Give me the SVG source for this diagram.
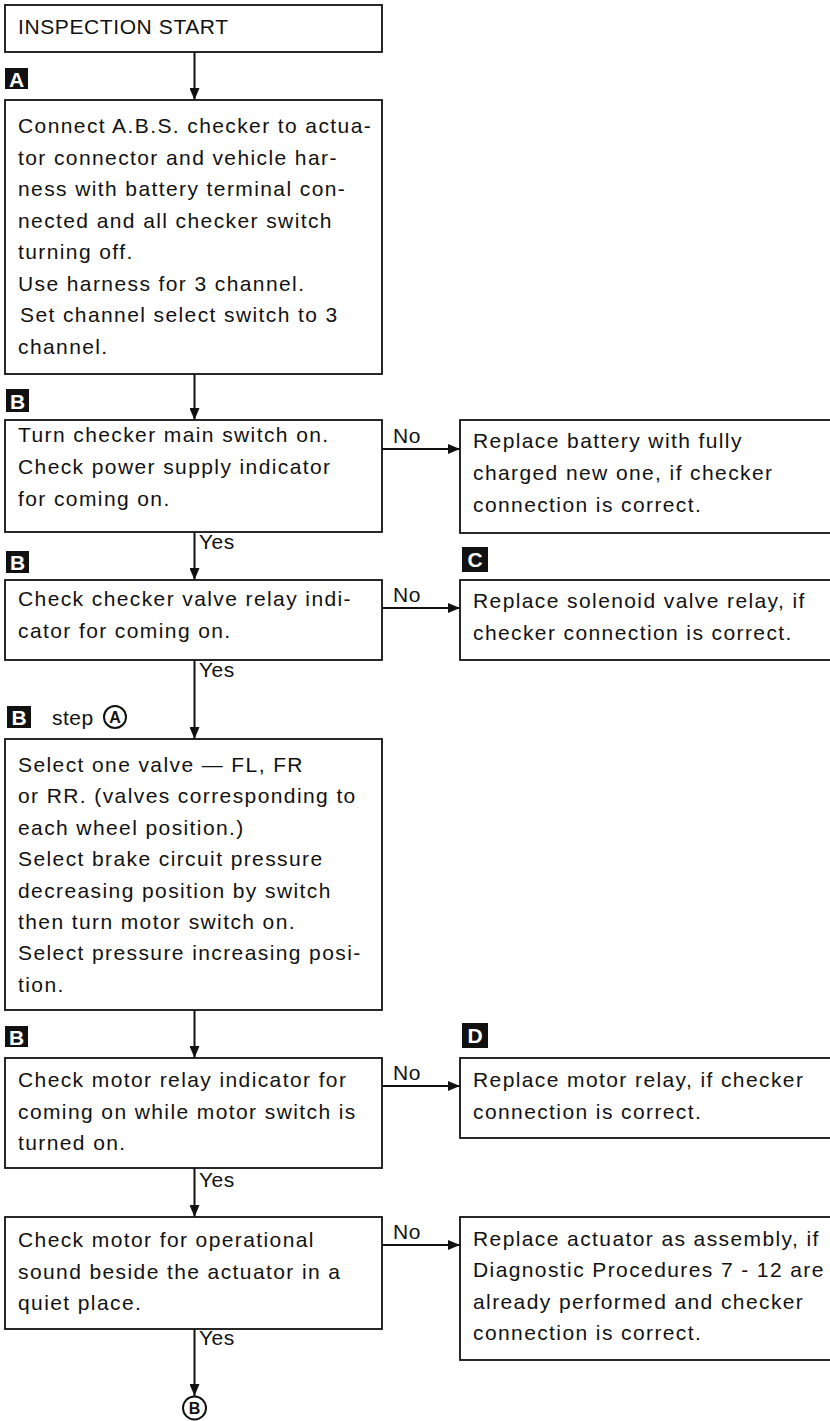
<svg xmlns="http://www.w3.org/2000/svg" width="830" height="1421" viewBox="0 0 830 1421">
<defs>
<style>
.box{fill:#fff;stroke:#111;stroke-width:1.8}
.t{font-family:"Liberation Sans",Arial,sans-serif;font-size:21px;letter-spacing:1.4px;fill:#111}
.lbl{font-family:"Liberation Sans",Arial,sans-serif;font-size:21px;letter-spacing:0.5px;fill:#111}
.badge{fill:#111}
.bl{font-family:"Liberation Sans",Arial,sans-serif;font-size:21px;font-weight:bold;fill:#fff;text-anchor:middle}
.con{stroke:#111;stroke-width:2;fill:none}
.circ{fill:#fff;stroke:#111;stroke-width:2}
.cl{font-family:"Liberation Sans",Arial,sans-serif;font-size:16px;font-weight:bold;fill:#111;text-anchor:middle}
</style>
<marker id="ah" viewBox="0 0 12 10" refX="12" refY="5" markerWidth="12" markerHeight="10" markerUnits="userSpaceOnUse" orient="auto">
<path d="M0,0 L12,5 L0,10 z" fill="#111"/>
</marker>
</defs>
<rect width="830" height="1421" fill="#fff"/>

<g id="connectors">
<line class="con" x1="194.5" y1="52" x2="194.5" y2="100" marker-end="url(#ah)"/>
<line class="con" x1="194.5" y1="374" x2="194.5" y2="420" marker-end="url(#ah)"/>
<line class="con" x1="382" y1="449" x2="460" y2="449" marker-end="url(#ah)"/>
<text class="lbl" x="393" y="443">No</text>
<line class="con" x1="194.5" y1="532" x2="194.5" y2="580" marker-end="url(#ah)"/>
<text class="lbl" x="199" y="549">Yes</text>
<line class="con" x1="382" y1="608" x2="460" y2="608" marker-end="url(#ah)"/>
<text class="lbl" x="393" y="602">No</text>
<line class="con" x1="194.5" y1="660" x2="194.5" y2="739" marker-end="url(#ah)"/>
<text class="lbl" x="199" y="677">Yes</text>
<line class="con" x1="194.5" y1="1010" x2="194.5" y2="1058" marker-end="url(#ah)"/>
<line class="con" x1="382" y1="1086" x2="460" y2="1086" marker-end="url(#ah)"/>
<text class="lbl" x="393" y="1080">No</text>
<line class="con" x1="194.5" y1="1168" x2="194.5" y2="1217" marker-end="url(#ah)"/>
<text class="lbl" x="199" y="1187">Yes</text>
<line class="con" x1="382" y1="1245" x2="460" y2="1245" marker-end="url(#ah)"/>
<text class="lbl" x="393" y="1239">No</text>
<line class="con" x1="194.5" y1="1329" x2="194.5" y2="1396" marker-end="url(#ah)"/>
<text class="lbl" x="199" y="1345">Yes</text>
</g>

<g id="start">
<rect class="box" x="5" y="5" width="377" height="47"/>
<text class="t" style="letter-spacing:0.6px" x="18" y="34">INSPECTION START</text>
</g>

<g id="badgeA">
<rect class="badge" x="5" y="68" width="23" height="21"/>
<text class="bl" x="16.5" y="86.5">A</text>
</g>

<g id="connect">
<rect class="box" x="5" y="100" width="377" height="274"/>
<text class="t" x="18" y="133">Connect A.B.S. checker to actua-</text>
<text class="t" x="18" y="164.5">tor connector and vehicle har-</text>
<text class="t" x="18" y="196">ness with battery terminal con-</text>
<text class="t" x="18" y="227.5">nected and all checker switch</text>
<text class="t" x="18" y="259">turning off.</text>
<text class="t" x="18" y="290.5">Use harness for 3 channel.</text>
<text class="t" x="20" y="322">Set channel select switch to 3</text>
<text class="t" x="18" y="353.5">channel.</text>
</g>

<g id="badgeB1">
<rect class="badge" x="6" y="389" width="23" height="23"/>
<text class="bl" x="17.5" y="408.5">B</text>
</g>

<g id="mainswitch">
<rect class="box" x="5" y="420" width="377" height="112"/>
<text class="t" x="18" y="442">Turn checker main switch on.</text>
<text class="t" x="18" y="474">Check power supply indicator</text>
<text class="t" x="18" y="506">for coming on.</text>
</g>

<g id="battery">
<rect class="box" x="460" y="420" width="380" height="113"/>
<text class="t" x="473" y="448">Replace battery with fully</text>
<text class="t" x="473" y="480">charged new one, if checker</text>
<text class="t" x="473" y="512">connection is correct.</text>
</g>

<g id="badgeB2">
<rect class="badge" x="6" y="551" width="23" height="22"/>
<text class="bl" x="17.5" y="569.5">B</text>
</g>

<g id="badgeC">
<rect class="badge" x="462" y="547" width="26" height="25"/>
<text class="bl" x="475" y="567">C</text>
</g>

<g id="valverelay">
<rect class="box" x="5" y="580" width="377" height="80"/>
<text class="t" x="18" y="606">Check checker valve relay indi-</text>
<text class="t" x="18" y="638">cator for coming on.</text>
</g>

<g id="solenoid">
<rect class="box" x="460" y="580" width="380" height="80"/>
<text class="t" x="473" y="608">Replace solenoid valve relay, if</text>
<text class="t" x="473" y="640">checker connection is correct.</text>
</g>

<g id="badgeB3">
<rect class="badge" x="7" y="706" width="24" height="22"/>
<text class="bl" x="19" y="724.5">B</text>
<text class="lbl" x="52" y="725">step</text>
<circle class="circ" cx="115" cy="717" r="11"/>
<text class="cl" x="115" y="722.5">A</text>
</g>

<g id="selectvalve">
<rect class="box" x="5" y="739" width="377" height="271"/>
<text class="t" x="18" y="772">Select one valve — FL, FR</text>
<text class="t" x="18" y="803.4">or RR. (valves corresponding to</text>
<text class="t" x="18" y="834.8">each wheel position.)</text>
<text class="t" x="18" y="866.2">Select brake circuit pressure</text>
<text class="t" x="18" y="897.6">decreasing position by switch</text>
<text class="t" x="18" y="929">then turn motor switch on.</text>
<text class="t" x="18" y="960.4">Select pressure increasing posi-</text>
<text class="t" x="18" y="991.8">tion.</text>
</g>

<g id="badgeB4">
<rect class="badge" x="5" y="1026" width="23" height="21"/>
<text class="bl" x="16.5" y="1044.5">B</text>
</g>

<g id="badgeD">
<rect class="badge" x="462" y="1023" width="26" height="25"/>
<text class="bl" x="475" y="1043">D</text>
</g>

<g id="motorrelay">
<rect class="box" x="5" y="1058" width="377" height="110"/>
<text class="t" x="18" y="1087">Check motor relay indicator for</text>
<text class="t" x="18" y="1118.5">coming on while motor switch is</text>
<text class="t" x="18" y="1150">turned on.</text>
</g>

<g id="replacerelay">
<rect class="box" x="460" y="1058" width="380" height="80"/>
<text class="t" x="473" y="1087">Replace motor relay, if checker</text>
<text class="t" x="473" y="1118.5">connection is correct.</text>
</g>

<g id="motorsound">
<rect class="box" x="5" y="1217" width="377" height="112"/>
<text class="t" x="18" y="1247">Check motor for operational</text>
<text class="t" x="18" y="1278.5">sound beside the actuator in a</text>
<text class="t" x="18" y="1310">quiet place.</text>
</g>

<g id="actuator">
<rect class="box" x="460" y="1217" width="380" height="143"/>
<text class="t" x="473" y="1246">Replace actuator as assembly, if</text>
<text class="t" x="473" y="1277">Diagnostic Procedures 7 - 12 are</text>
<text class="t" x="473" y="1308.5">already performed and checker</text>
<text class="t" x="473" y="1340">connection is correct.</text>
</g>

<g id="endB">
<circle class="circ" cx="194.5" cy="1408" r="11.5"/>
<text class="cl" x="194.5" y="1414">B</text>
</g>
</svg>
